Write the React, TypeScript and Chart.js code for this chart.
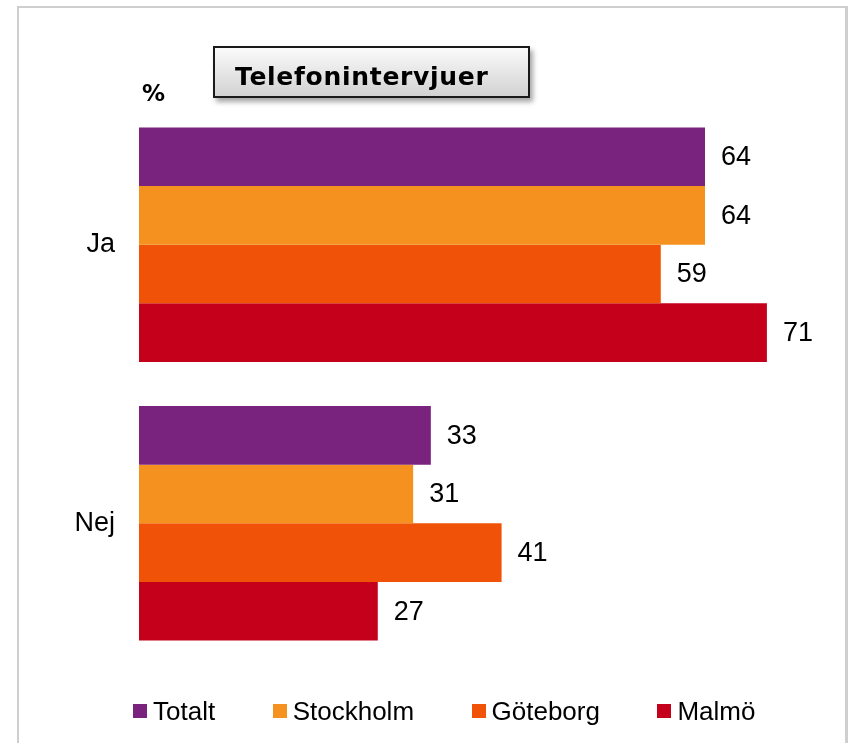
import React, { useEffect, useRef } from 'react';
import { Chart, registerables } from 'chart.js';

Chart.register(...registerables);

const categories = ['Ja', 'Nej'];
const seriesNames = ['Totalt', 'Stockholm', 'Göteborg', 'Malmö'];
const totalt = [64, 33];
const stockholm = [64, 31];
const goteborg = [59, 41];
const malmo = [71, 27];
const seriesColors = ['#7A237E', '#F5921F', '#F05307', '#C5001A'];
const xMax = 80;
const chartTitle = 'Telefonintervjuer';
const unitLabel = '%';

const FONT = '"Liberation Sans", Arial, sans-serif';

const valueLabels = {
  id: 'valueLabels',
  afterDatasetsDraw(chart: any) {
    const ctx = chart.ctx;
    ctx.save();
    ctx.font = `27px ${FONT}`;
    ctx.fillStyle = '#000';
    ctx.textAlign = 'left';
    ctx.textBaseline = 'middle';
    chart.data.datasets.forEach((ds: any, i: number) => {
      const meta = chart.getDatasetMeta(i);
      meta.data.forEach((el: any, j: number) => {
        ctx.fillText(String(ds.data[j]), el.x + 16, el.y + 1);
      });
    });
    ctx.restore();
  },
};

export default function App() {
  const canvasRef = useRef<HTMLCanvasElement | null>(null);

  useEffect(() => {
    if (!canvasRef.current) return;
    const seriesValues = [totalt, stockholm, goteborg, malmo];
    const chart = new Chart(canvasRef.current, {
      type: 'bar',
      data: {
        labels: categories,
        datasets: seriesNames.map((name, i) => ({
          label: name,
          data: seriesValues[i],
          backgroundColor: seriesColors[i],
          borderWidth: 0,
          categoryPercentage: 0.8417,
          barPercentage: 1,
        })),
      },
      options: {
        indexAxis: 'y',
        animation: false,
        responsive: false,
        devicePixelRatio: 1,
        layout: { padding: { top: 105.4, right: 8.5, bottom: 80.4, left: 0 } },
        plugins: {
          legend: { display: false },
          tooltip: { enabled: false },
        },
        scales: {
          x: { display: false, min: 0, max: xMax },
          y: {
            display: true,
            grid: { display: false, drawTicks: false },
            border: { display: false },
            ticks: {
              color: '#000',
              padding: 24,
              font: { family: FONT, size: 27 },
            },
            afterFit: (scale: any) => {
              scale.width = 139;
            },
          },
        },
      },
      plugins: [valueLabels],
    } as any);
    return () => chart.destroy();
  }, []);

  return (
    <div style={{ position: 'fixed', left: 0, top: 0, width: 855, height: 743, background: '#fff', overflow: 'hidden' }}>
      <div
        style={{
          position: 'absolute',
          left: 17,
          top: 6,
          width: 831,
          height: 780,
          boxSizing: 'border-box',
          border: '2px solid #cfcfcf',
          borderRightWidth: 3,
        }}
      />
      <canvas ref={canvasRef} width={855} height={743} style={{ position: 'absolute', left: 0, top: 0 }} />
      <div
        style={{
          position: 'absolute',
          left: 213,
          top: 46,
          width: 317,
          height: 52,
          boxSizing: 'border-box',
          border: '2px solid #1a1a1a',
          background: 'linear-gradient(#fbfbfb, #d2d2d2)',
          boxShadow: '3px 4px 5px rgba(0,0,0,0.35)',
        }}
      >
        <span
          style={{
            position: 'absolute',
            left: 20,
            top: 15.5,
            fontFamily: '"DejaVu Sans", Verdana, sans-serif',
            fontWeight: 'bold',
            fontSize: 25,
            letterSpacing: 0.7,
            lineHeight: '25px',
            color: '#000',
            whiteSpace: 'nowrap',
          }}
        >
          {chartTitle}
        </span>
      </div>
      <span
        style={{
          position: 'absolute',
          left: 142,
          top: 81.5,
          fontFamily: '"DejaVu Sans", Verdana, sans-serif',
          fontWeight: 'bold',
          fontSize: 23,
          lineHeight: '23px',
          color: '#000',
        }}
      >
        {unitLabel}
      </span>
      <div
        style={{
          position: 'absolute',
          left: 133,
          top: 698,
          height: 26,
          display: 'flex',
          alignItems: 'center',
          gap: 57.5,
          whiteSpace: 'nowrap',
        }}
      >
        {seriesNames.map((name, i) => (
          <div key={name} style={{ display: 'flex', alignItems: 'center' }}>
            <span style={{ display: 'inline-block', width: 14, height: 14, background: seriesColors[i], marginRight: 6 }} />
            <span style={{ fontFamily: FONT, fontSize: 26, lineHeight: '26px', color: '#000' }}>{name}</span>
          </div>
        ))}
      </div>
    </div>
  );
}
